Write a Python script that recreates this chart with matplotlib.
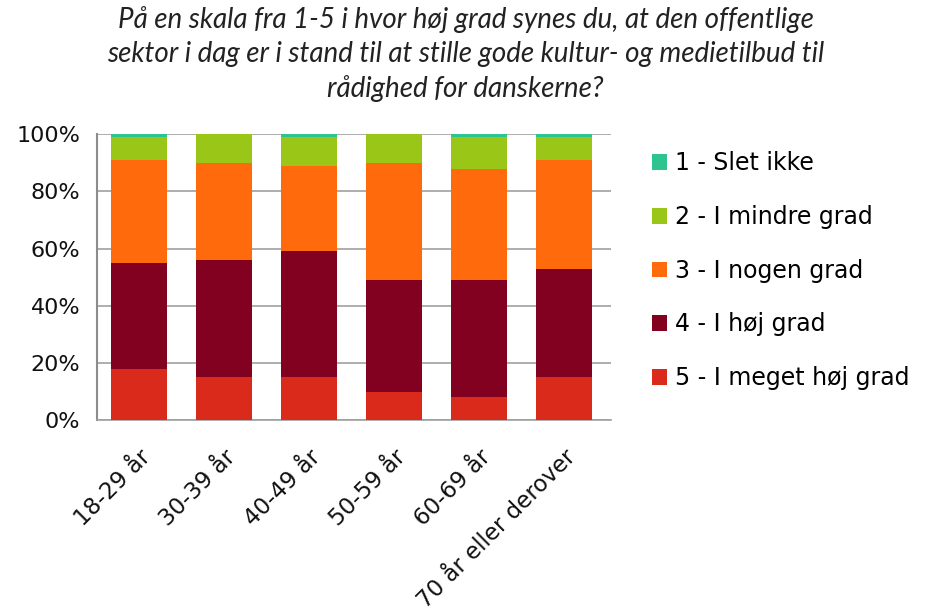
import numpy as np
import matplotlib.pyplot as plt

plt.rcParams['font.family'] = ['DejaVu Sans']

categories = ['18-29 år', '30-39 år', '40-49 år', '50-59 år', '60-69 år', '70 år eller derover']
labels = ['1 - Slet ikke', '2 - I mindre grad', '3 - I nogen grad', '4 - I høj grad', '5 - I meget høj grad']
colors = ['#2DC48F', '#9AC717', '#FF6A0D', '#820020', '#DA2A1B']

# shares in %, per answer
v1 = [1, 0, 1, 0, 1, 1]
v2 = [8, 10, 10, 10, 11, 8]
v3 = [36, 34, 30, 41, 39, 38]
v4 = [37, 41, 44, 39, 41, 38]
v5 = [18, 15, 15, 10, 8, 15]

title = ('På en skala fra 1-5 i hvor høj grad synes du, at den offentlige\n'
         'sektor i dag er i stand til at stille gode kultur- og medietilbud til\n'
         'rådighed for danskerne?')

fig = plt.figure(figsize=(9.31, 6.16), dpi=100)
ax = fig.add_axes([0.104, 0.318, 0.552, 0.464])

x = np.arange(len(categories))
series = [v5, v4, v3, v2, v1]
ser_colors = colors[::-1]
ser_labels = labels[::-1]
bottom = np.zeros(len(categories))
handles = []
for vals, c, lab in zip(series, ser_colors, ser_labels):
    vals = np.array(vals, dtype=float)
    h = ax.bar(x, vals, 0.66, bottom=bottom, color=c, label=lab, zorder=3)
    handles.append(h)
    bottom += vals

ax.set_xlim(-0.5, 5.55)
ax.set_ylim(0, 100)
ax.set_yticks(range(0, 101, 20))
ax.set_yticklabels([f'{t}%' for t in range(0, 101, 20)], fontsize=16, color='#111111')
ax.yaxis.grid(True, color='#A0A0A0', linewidth=1.2, zorder=0)
ax.tick_params(axis='y', length=0, pad=12)
ax.tick_params(axis='x', length=0, pad=18)
ax.set_xticks(x)
ax.set_xticklabels(categories, rotation=45, ha='right', rotation_mode='anchor',
                   fontsize=16.5, color='#111111')
for s in ['top', 'right']:
    ax.spines[s].set_visible(False)
ax.spines['left'].set_color('#8C8C8C')
ax.spines['left'].set_linewidth(1.5)
ax.spines['bottom'].set_color('#A0A0A0')
ax.spines['bottom'].set_linewidth(1.2)

fig.legend(handles[::-1], labels, loc='upper left', bbox_to_anchor=(0.677, 0.789),
           frameon=False, fontsize=17, handlelength=0.65, handleheight=0.65,
           handletextpad=0.35, labelspacing=1.26)

fig.text(0.5, 0.99, title, ha='center', va='top', fontsize=20, style='italic',
         color='#222222', linespacing=1.36, family=['Lato', 'DejaVu Sans'])

fig.savefig('out.png', dpi=100)
